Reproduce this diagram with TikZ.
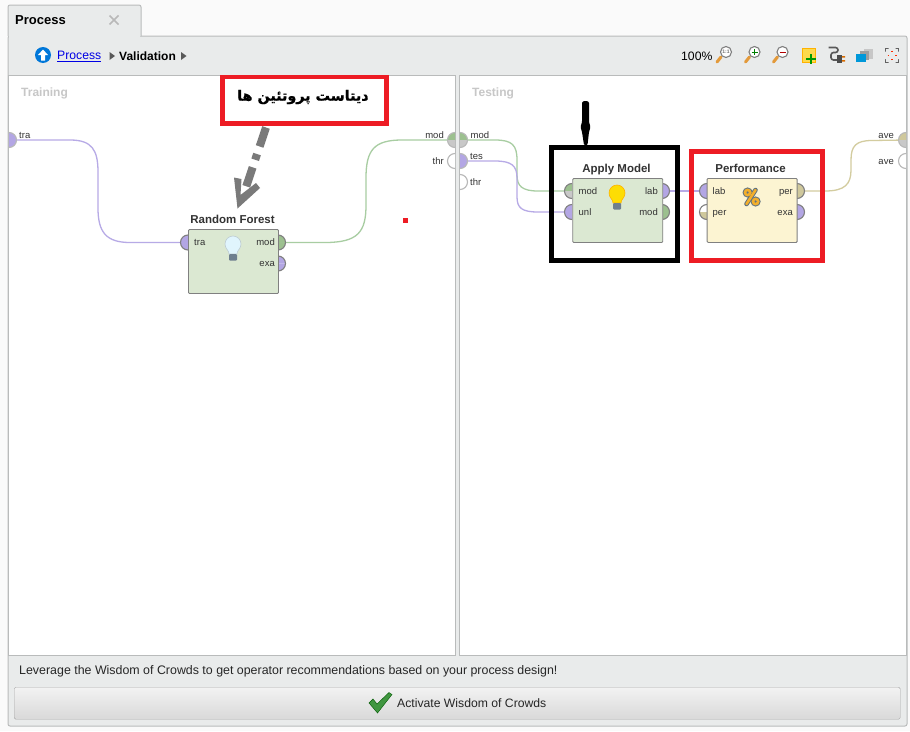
\documentclass[tikz,border=0pt]{standalone}
\usepackage{fontspec}
\setmainfont{Liberation Sans}
\newfontfamily\arabicfont[Script=Arabic,BoldFeatures={FakeBold=0.8}]{DejaVu Sans}
\TeXXeTstate=1
\definecolor{pagebg}{HTML}{FAFAFA}
\definecolor{panelbg}{HTML}{E9EBEB}
\definecolor{panelline}{HTML}{B9BBBB}
\definecolor{wirepurple}{HTML}{B7AAE6}
\definecolor{wiregreen}{HTML}{A8CDA2}
\definecolor{wiretan}{HTML}{D3CC9F}
\definecolor{portpurple}{HTML}{B3A6E4}
\definecolor{portgreen}{HTML}{9CC08F}
\definecolor{porttan}{HTML}{CFC89C}
\definecolor{portgray}{HTML}{C8C8C8}
\definecolor{opgreen}{HTML}{DBE8D2}
\definecolor{opyellow}{HTML}{FCF4D2}
\definecolor{redmark}{HTML}{ED1C24}
\definecolor{handle}{HTML}{E39A3B}
\definecolor{bulbbase}{HTML}{6E7F8F}
\definecolor{pctdark}{HTML}{5F7280}
\definecolor{pctfill}{HTML}{F3AE2A}
\tikzset{
  panel/.style={draw=panelline,fill=panelbg,line width=1pt},
  canvas/.style={fill=white,draw=panelline,line width=1pt},
  opbox/.style={draw=black!50,line width=.9pt,rounded corners=1pt,minimum width=90pt,minimum height=64pt,inner sep=0pt,anchor=north west},
  optitle/.style={font=\bfseries\fontsize{11.5}{12}\selectfont,text=black!80,inner sep=0pt,text height=8.5pt,text depth=2.5pt,yshift=-.8pt},
  portlabel/.style={font=\fontsize{9.5}{10}\selectfont,text=black!80,inner sep=0pt,text height=6.8pt,text depth=2pt,yshift=-1pt},
  portring/.style={draw=black!50,line width=1.1pt},
  wire/.style={line width=1.3pt},
  markbox/.style={line width=4.6pt,inner sep=0pt,anchor=north west},
  uitext/.style={font=\fontsize{12.2}{14}\selectfont,text=black!85,inner sep=0pt,text height=9pt,text depth=3pt,yshift=-.8pt},
  panelhead/.style={font=\bfseries\fontsize{12}{14}\selectfont,text=black!22,inner sep=0pt,anchor=west,text height=9pt,text depth=3pt,yshift=-.5pt},
  lens/.style={draw=black!50,fill=white,line width=1.1pt},
  handlebar/.style={draw=handle,line width=3pt,line cap=round},
}
\newcommand\portL[5]{%
  \fill[#4] (#2,#3) -- ++(0,7.5) arc[start angle=90,end angle=180,radius=7.5] -- cycle;
  \fill[#5] (#2,#3) -- ++(-7.5,0) arc[start angle=180,end angle=270,radius=7.5] -- cycle;
  \draw[portring] (#2,#3) ++(0,7.5) arc[start angle=90,end angle=270,radius=7.5];
  \coordinate (#1) at (#2,#3);}
\newcommand\portR[5]{%
  \fill[#4] (#2,#3) -- ++(7.5,0) arc[start angle=0,end angle=90,radius=7.5] -- cycle;
  \fill[#5] (#2,#3) -- ++(0,-7.5) arc[start angle=-90,end angle=0,radius=7.5] -- cycle;
  \draw[portring] (#2,#3) ++(0,-7.5) arc[start angle=-90,end angle=90,radius=7.5];
  \coordinate (#1) at (#2,#3);}
\newcommand\bulb[4]{%
  \fill[#3,draw=#4,line width=.6pt] (#1-4,#2-8) .. controls (#1-4,#2-4) and (#1-8,#2-3) .. (#1-8,#2+2)
    arc[start angle=180,end angle=0,radius=8] .. controls (#1+8,#2-3) and (#1+4,#2-4) .. (#1+4,#2-8) -- cycle;
  \fill[bulbbase,rounded corners=1pt] (#1-4,#2-8) rectangle (#1+4,#2-14.5);}
\newcommand\magnifier[2]{%
  \draw[handlebar] (#1-5,#2-5) -- (#1-9,#2-10);
  \draw[lens] (#1,#2) circle[radius=5.5];}
\begin{document}
\begin{tikzpicture}[x=1pt,y=1pt]
\useasboundingbox (0,0) rectangle (910,-731);
\fill[pagebg] (0,0) rectangle (910,-731);
% frame and tab
\draw[panel,rounded corners=2pt] (8,-36) rectangle (907,-726);
\draw[panel,rounded corners=2pt] (8,-36) -- (8,-5) -- (141,-5) -- (141,-36);
\fill[panelbg] (9,-30) rectangle (140,-37);
\node[anchor=west,inner sep=0pt,font=\bfseries\fontsize{13}{14}\selectfont,text height=9.5pt,text depth=3pt] (tabtitle) at (15,-21.5) {Process};
\draw[black!28,line width=1.6pt] (109.5,-15.5) -- (118.5,-24.5) (118.5,-15.5) -- (109.5,-24.5);
% breadcrumb
\fill[blue!45!cyan!85!black] (43,-55) circle[radius=8];
\fill[white] (43,-49.5) -- (48,-55) -- (45,-55) -- (45,-60.5) -- (41,-60.5) -- (41,-55) -- (38,-55) -- cycle;
\node[uitext,anchor=west,text=blue!90!black] (crumbone) at (57,-56) {\underline{Process}};
\fill[black!65] (109.5,-52) -- (115,-56) -- (109.5,-60) -- cycle;
\node[uitext,anchor=west,font=\bfseries\fontsize{12}{14}\selectfont,text=black] (crumbtwo) at (119,-57) {Validation};
\fill[black!65] (181,-52) -- (186.5,-56) -- (181,-60) -- cycle;
% toolbar
\node[uitext,anchor=west,text=black] (zoomlabel) at (681,-56.5) {100\%};
\magnifier{726}{-52}
\node[inner sep=0pt,font=\bfseries\fontsize{5}{5}\selectfont,text=black!55] (zoomone) at (726,-52) {1:1};
\magnifier{754.5}{-52}
\draw[green!50!black,line width=1pt] (751.5,-52) -- (757.5,-52) (754.5,-49) -- (754.5,-55);
\magnifier{782.5}{-52}
\draw[red!70!black,line width=1pt] (779.5,-52) -- (785.5,-52);
\fill[yellow!65!orange!70,draw=orange!60!yellow,line width=.5pt] (802,-48.5) rectangle (815,-62);
\draw[green!60!black,line width=2.4pt] (806,-59) -- (816,-59) (811,-54) -- (811,-64);
\draw[black!65,line width=1.6pt,rounded corners=2.5pt] (828.5,-47.5) -- (838,-47.5) -- (838,-52.5) -- (831,-52.5) -- (831,-60) -- (838,-60);
\fill[black!70] (836.5,-54.5) rectangle (842,-63);
\fill[orange!85!black] (842,-56) rectangle (845,-57.5) (842,-60) rectangle (845,-61.5);
\fill[black!22] (863.5,-49) rectangle (872.5,-59);
\fill[black!38] (860,-51) rectangle (869,-60);
\fill[blue!30!cyan!85!black] (856,-53.5) rectangle (866,-62);
\draw[black!62,line width=.9pt] (885.5,-48.5) rectangle (898.5,-62);
\fill[panelbg] (888.5,-47) rectangle (895.5,-64) (884,-51.5) rectangle (900,-59);
\draw[red!65!orange,line width=1.3pt] (892,-50.5) -- (892,-52) (892,-60) -- (892,-58.5) (887.5,-55.3) -- (889,-55.3) (896.5,-55.3) -- (895,-55.3);
% canvases
\draw[canvas] (8.5,-75) rectangle (455.5,-655);
\draw[canvas] (459.5,-75) rectangle (906.5,-655);
\node[panelhead] (trainhead) at (21,-93) {Training};
\node[panelhead] (testhead) at (472,-93) {Testing};
% coordinates of port centres for the wires
\coordinate (trainTra) at (9,-140);
\coordinate (trainMod) at (455,-140);
\coordinate (testMod) at (460,-140);
\coordinate (testTes) at (460,-161);
\coordinate (testAve) at (906,-140);
\coordinate (rfTra) at (188,-242.5);
\coordinate (rfMod) at (278,-242.5);
\coordinate (amMod) at (572,-191);
\coordinate (amUnl) at (572,-212);
\coordinate (amLab) at (662,-191);
\coordinate (pfLab) at (707,-191);
\coordinate (pfPer) at (797,-191);
% wires
\draw[wire,wirepurple] (trainTra) -- (70,-140) .. controls (92,-140) and (98,-150) .. (98,-172) -- (98,-208) .. controls (98,-232) and (106,-242.5) .. (130,-242.5) -- (rfTra);
\draw[wire,wiregreen] (rfMod) -- (325,-242.5) .. controls (358,-242.5) and (366,-232) .. (366,-205) -- (366,-178) .. controls (366,-150) and (374,-140) .. (402,-140) -- (trainMod);
\draw[wire,wiregreen] (testMod) -- (495,-140) .. controls (512,-140) and (517,-145) .. (517,-160) -- (517,-175) .. controls (517,-186) and (522,-191) .. (538,-191) -- (amMod);
\draw[wire,wirepurple] (testTes) -- (495,-161) .. controls (512,-161) and (517,-166) .. (517,-178) -- (517,-197) .. controls (517,-208) and (522,-212) .. (538,-212) -- (amUnl);
\draw[wire,wirepurple] (amLab) -- (pfLab);
\draw[wire,wiretan] (pfPer) -- (825,-191) .. controls (845,-191) and (851,-184) .. (851,-170) -- (851,-160) .. controls (851,-146) and (856,-140.5) .. (872,-140.5) -- (testAve);
% boundary ports
\begin{scope}
\tikzset{portring/.style={draw=black!28,line width=1.1pt}}
\portR{ptTra}{9}{-140}{portpurple}{portpurple}
\portL{ptMod}{455}{-140}{portgreen}{portgray}
\portL{ptThr}{455}{-161}{white}{white}
\portR{psMod}{460}{-140}{portgreen}{portgray}
\portR{psTes}{460}{-161}{portpurple}{portpurple}
\portR{psThr}{460}{-182}{white}{white}
\portL{ptAveA}{906}{-140}{porttan}{portgray}
\portL{ptAveB}{906}{-161}{white}{white}
\end{scope}
\node[portlabel,anchor=west] (ltra) at (19,-135) {tra};
\node[portlabel,anchor=east] (lmodr) at (444,-135) {mod};
\node[portlabel,anchor=east] (lthrr) at (444,-161) {thr};
\node[portlabel,anchor=west] (lmodt) at (470.5,-135) {mod};
\node[portlabel,anchor=west] (ltes) at (470,-156) {tes};
\node[portlabel,anchor=west] (lthrt) at (470,-182) {thr};
\node[portlabel,anchor=east] (lavea) at (894,-135) {ave};
\node[portlabel,anchor=east] (laveb) at (894,-161) {ave};
% Random Forest
\portL{rfPa}{188}{-242.5}{portpurple}{portpurple}
\portR{rfPb}{278}{-242.5}{portgreen}{portgreen}
\portR{rfPc}{278}{-263.5}{portpurple}{portpurple}
\node[opbox,fill=opgreen] (rf) at (188,-229) {};
\node[optitle] (rfname) at (232.5,-219.5) {Random Forest};
\node[portlabel,anchor=west] (rfl1) at (194,-242) {tra};
\node[portlabel,anchor=east] (rfl2) at (275,-242) {mod};
\node[portlabel,anchor=east] (rfl3) at (275,-263) {exa};
\bulb{233}{-246}{cyan!12}{cyan!35!black!30}
% Apply Model
\portL{amPa}{572}{-191}{portgreen}{portgray}
\portL{amPb}{572}{-212}{portpurple}{portpurple}
\portR{amPc}{662}{-191}{portpurple}{portpurple}
\portR{amPd}{662}{-212}{portgreen}{portgreen}
\node[opbox,fill=opgreen] (am) at (572.3,-178) {};
\node[optitle] (amname) at (616.5,-168.5) {Apply Model};
\node[portlabel,anchor=west] (aml1) at (578.5,-191) {mod};
\node[portlabel,anchor=west] (aml2) at (578.5,-212) {unl};
\node[portlabel,anchor=east] (aml3) at (658,-191) {lab};
\node[portlabel,anchor=east] (aml4) at (658,-212) {mod};
\bulb{617}{-195}{yellow!80!orange}{orange!60!yellow}
% Performance
\portL{pfPa}{707}{-191}{portpurple}{portpurple}
\portL{pfPb}{707}{-212}{white}{porttan}
\portR{pfPc}{797}{-191}{porttan}{porttan}
\portR{pfPd}{797}{-212}{portpurple}{portpurple}
\node[opbox,fill=opyellow] (pf) at (706.7,-178) {};
\node[optitle] (pfname) at (750.5,-168.5) {Performance};
\node[portlabel,anchor=west] (pfl1) at (712.5,-191) {lab};
\node[portlabel,anchor=west] (pfl2) at (712.5,-212) {per};
\node[portlabel,anchor=east] (pfl3) at (793,-191) {per};
\node[portlabel,anchor=east] (pfl4) at (793,-212) {exa};
\foreach \w/\c in {4.6pt/pctdark,2.6pt/pctfill}{
  \draw[\c,line width=\w,line cap=round] (746.5,-204) -- (755.5,-190);
  \draw[\c,line width=\w] (747.6,-192.5) circle[radius=2.6] (755.6,-201.5) circle[radius=2.6];
}
% marks
\draw[markbox,draw=redmark,fill=white] (222.3,-77) rectangle (386.7,-123.5);
\node[inner sep=0pt,font=\arabicfont\bfseries\fontsize{14.3}{16}\selectfont] (dataset) at (303,-97) {\beginR دیتاست پروتئین ها\endR};
\fill[redmark] (402.5,-217.5) rectangle (408,-223);
\draw[markbox,draw=black] (551.4,-147.4) rectangle (677.6,-260.6);
\draw[markbox,draw=redmark] (691.3,-151.3) rectangle (822.7,-260.4);
% black hand-drawn arrow
\coordinate (blacktop) at (585.5,-101);
\coordinate (blacktip) at (585.5,-146);
\fill[black,rounded corners=1pt] (582,-102) -- (584,-101) -- (587,-101) -- (589,-102) -- (589,-122) -- (590.5,-127) -- (589,-132) -- (587.5,-145) -- (584,-145) -- (582,-132) -- (580.5,-127) -- (582,-122) -- cycle;
% grey dash-dot arrow
\coordinate (greyfrom) at (266,-127.5);
\coordinate (greyto) at (241,-202);
\draw[black!52,line width=8pt,dash pattern=on 20pt off 8pt on 6pt off 8pt on 20pt off 100pt] (greyfrom) -- (greyto);
\fill[black!52] (234,-177.5) -- (241.5,-179) -- (240.5,-195) -- (256,-183) -- (260,-188) -- (237.5,-208.5) -- cycle;
% bottom
\node[uitext,anchor=west,font=\fontsize{12.4}{14}\selectfont] (hint) at (19,-670.5) {Leverage the Wisdom of Crowds to get operator recommendations based on your process design!};
\node[draw=black!35,rounded corners=1.5pt,top color=black!5,bottom color=black!15,minimum width=886pt,minimum height=32pt,inner sep=0pt,anchor=north west] (activate) at (14,-687) {};
\node[uitext,anchor=west] (activatetext) at (397,-704) {Activate Wisdom of Crowds};
\fill[green!45!black!75,draw=green!35!black,line width=.4pt] (369,-703) -- (373,-699) -- (377,-704) -- (389,-692.5) -- (392,-694.5) -- (377.5,-713) -- cycle;
\end{tikzpicture}
\end{document}
